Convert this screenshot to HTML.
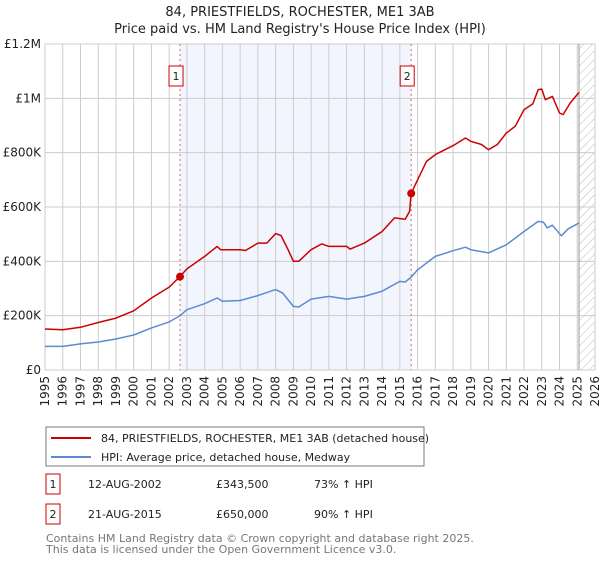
<!DOCTYPE html>
<html><head><meta charset="utf-8">
<style>
body{margin:0;background:#fff;font-family:"Liberation Sans","DejaVu Sans",sans-serif;}
svg text{font-family:"DejaVu Sans","Liberation Sans",sans-serif;}
</style></head>
<body>
<svg id="chart" width="600" height="560" xmlns="http://www.w3.org/2000/svg">
<defs><pattern id="hatch" width="6" height="6" patternUnits="userSpaceOnUse" patternTransform="rotate(45)"><line x1="0" y1="0" x2="0" y2="6" stroke="#bbb" stroke-width="1"/></pattern></defs>
<text x="300" y="16" text-anchor="middle" font-size="13" fill="#222">84, PRIESTFIELDS, ROCHESTER, ME1 3AB</text>
<text x="300" y="33" text-anchor="middle" font-size="13" fill="#222">Price paid vs. HM Land Registry's House Price Index (HPI)</text>
<g id="plot"></g>
<rect x="46" y="427" width="378" height="39" fill="#fff" stroke="#777"/>
<line x1="51" y1="438" x2="91" y2="438" stroke="#cc0000" stroke-width="2"/>
<text x="101" y="442" font-size="11" fill="#222">84, PRIESTFIELDS, ROCHESTER, ME1 3AB (detached house)</text>
<line x1="51" y1="457" x2="91" y2="457" stroke="#5b8bd0" stroke-width="2"/>
<text x="101" y="461" font-size="11" fill="#222">HPI: Average price, detached house, Medway</text>
<g font-size="11" fill="#222">
<rect x="46" y="474" width="14" height="20" fill="#fff" stroke="#cc0000"/><text x="53" y="488" text-anchor="middle">1</text>
<text x="88" y="488">12-AUG-2002</text><text x="216" y="488">£343,500</text><text x="314" y="488">73% ↑ HPI</text></g>
<g font-size="11" fill="#222">
<rect x="46" y="504" width="14" height="20" fill="#fff" stroke="#cc0000"/><text x="53" y="518" text-anchor="middle">2</text>
<text x="88" y="518">21-AUG-2015</text><text x="216" y="518">£650,000</text><text x="314" y="518">90% ↑ HPI</text></g>
<text x="46" y="542" font-size="11" fill="#777">Contains HM Land Registry data © Crown copyright and database right 2025.</text>
<text x="46" y="553" font-size="11" fill="#777">This data is licensed under the Open Government Licence v3.0.</text>
</svg>
<script>
const redYears=[1995,1996,1997,1998,1999,2000,2001,2002,2002.6,2003,2004,2004.7,2004.9,2006,2006.3,2007,2007.5,2008,2008.3,2008.7,2009,2009.3,2010,2010.6,2011,2012,2012.2,2013,2014,2014.7,2015.3,2015.55,2015.64,2016,2016.5,2017,2018,2018.7,2019,2019.6,2020,2020.5,2021,2021.5,2022,2022.5,2022.8,2023,2023.2,2023.6,2024,2024.2,2024.6,2025.1];
const redValues=[151,148,157,175,191,218,265,305,343.5,372,418,455,443,443,440,467,467,502,495,443,400,400,443,464,455,455,445,467,510,560,555,584,650,700,768,793,826,854,842,830,811,830,872,897,958,980,1032,1034,995,1007,946,940,983,1022];
const hpiYears=[1995,1996,1997,1998,1999,2000,2001,2002,2002.6,2003,2004,2004.7,2005,2006,2007,2008,2008.4,2009,2009.3,2010,2011,2012,2013,2014,2015,2015.3,2015.64,2016,2017,2018,2018.7,2019,2020,2021,2022,2022.8,2023.1,2023.3,2023.6,2024.1,2024.5,2025.1];
const hpiValues=[87,87,96,103,114,129,155,177,199,222,244,265,253,256,274,296,283,234,232,261,271,261,271,290,326,324,342,369,418,439,452,443,431,461,510,547,544,523,533,494,520,541];
const yTicks=[0,200,400,600,800,1000,1200];
const yTickLabels=["£0","£200K","£400K","£600K","£800K","£1M","£1.2M"];
const xTicks=[1995,1996,1997,1998,1999,2000,2001,2002,2003,2004,2005,2006,2007,2008,2009,2010,2011,2012,2013,2014,2015,2016,2017,2018,2019,2020,2021,2022,2023,2024,2025,2026];
const sales=[{label:"1",year:2002.61,value:343.5},{label:"2",year:2015.64,value:650}];
const dataEnd=2025.1;

const L=45,R=595,T=44,B=370;
const X=y=>L+(y-1995)/(2026-1995)*(R-L);
const Y=v=>B-v/1200*(B-T);
const NS="http://www.w3.org/2000/svg";
const g=document.getElementById('plot');
function mk(t,a,p){const e=document.createElementNS(NS,t);for(const k in a)e.setAttribute(k,a[k]);(p||g).appendChild(e);return e;}

const shade=mk('rect',{x:X(sales[0].year),y:T,width:X(sales[1].year)-X(sales[0].year),height:B-T,fill:'#f2f5fd'});


const hat=mk('rect',{x:X(dataEnd),y:T,width:R-X(dataEnd),height:B-T,fill:'url(#hatch)'});



xTicks.forEach(t=>{
  const l=mk('line',{x1:X(t),x2:X(t),y1:T,y2:B,stroke:'#ccc','stroke-width':1});
  
  
  const tx=mk('text',{x:0,y:0,'font-size':12,fill:'#222','text-anchor':'end',transform:`translate(${X(t)+4},376) rotate(-90)`});
  tx.textContent=t;
  
  
});
yTicks.forEach((t,i)=>{
  const l=mk('line',{x1:L,x2:R,y1:Y(t),y2:Y(t),stroke:'#ccc','stroke-width':1});
  
  
  const tx=mk('text',{x:L-4,y:Y(t)+4,'font-size':12,fill:'#222','text-anchor':'end'});
  tx.textContent=yTickLabels[i];
  
  
});
const border=mk('rect',{x:L,y:T,width:R-L,height:B-T,fill:'none',stroke:'#ccc'});


const endLine=mk('line',{x1:X(dataEnd),x2:X(dataEnd),y1:T,y2:B,stroke:'#999','stroke-width':1});



sales.forEach(s=>{
  const l=mk('line',{x1:X(s.year),x2:X(s.year),y1:T,y2:B,stroke:'#e06666','stroke-dasharray':'2,3','stroke-width':1});
  
  
  const b=mk('rect',{x:X(s.year)-11,y:66,width:14,height:20,fill:'#fff',stroke:'#cc0000'});
  
  
  const t=mk('text',{x:X(s.year)-4,y:80,'font-size':11,'text-anchor':'middle',fill:'#222'});
  t.textContent=s.label;
  
  
});

function line(xs,vs,c,name){
  const p=mk('path',{d:xs.map((x,i)=>(i?'L':'M')+X(x).toFixed(1)+','+Y(vs[i]).toFixed(1)).join(''),fill:'none',stroke:c,'stroke-width':1.5,'stroke-linejoin':'round'});
  
  
}
line(hpiYears,hpiValues,'#5b8bd0','hpi-line');
line(redYears,redValues,'#cc0000','property-price-line');
sales.forEach(s=>{
  const c=mk('circle',{cx:X(s.year),cy:Y(s.value),r:4,fill:'#cc0000'});
  
  
});
</script>
</body></html>
